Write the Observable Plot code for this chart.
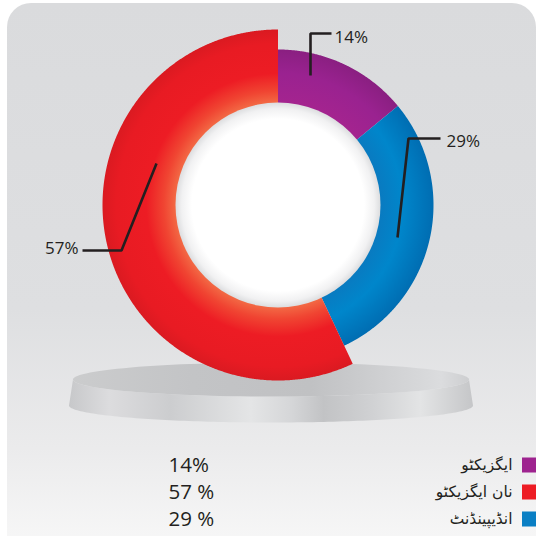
<!DOCTYPE html>
<html><head><meta charset="utf-8">
<script src="https://cdn.jsdelivr.net/npm/d3@7"></script>
<script src="https://cdn.jsdelivr.net/npm/@observablehq/plot@0.6"></script>
<style>html,body{margin:0;padding:0;background:#fff;overflow:hidden;} svg{display:block;}</style>
</head><body><div id="chart"></div>
<script>
// ---- data ----
const categories = ["ایگزیکٹو", "نان ایگزیکٹو", "انڈیپینڈنٹ"];
const values = [14, 57, 29];
const legendValueLabels = ["14%", "57 %", "29 %"];
const sliceLabels = ["14%", "57%", "29%"];
const colors = ["#9e238f", "#ed1c24", "#0a7fc4"];
// clockwise order around the ring, starting at 12 o'clock
const ringOrder = ["ایگزیکٹو", "انڈیپینڈنٹ", "نان ایگزیکٹو"];

// ---- layout ----
const W = 536, H = 536;
const cx = 277.5, cy = 204.5, rInner = 102.5;
const outerRadius = {"ایگزیکٹو": 155.5, "انڈیپینڈنٹ": 155.5, "نان ایگزیکٹو": 175.5};
const gradIds = {"ایگزیکٹو": "gPurple", "انڈیپینڈنٹ": "gBlue", "نان ایگزیکٹو": "gRed"};
// leader lines (pixel layout) and label anchors
const leaders = [
  {cat: "ایگزیکٹو", pts: [[310, 75], [310, 33], [331, 33]], lx: 334, ly: 37, anchor: "start"},
  {cat: "انڈیپینڈنٹ", pts: [[397, 237], [408, 138], [440, 138]], lx: 446, ly: 141, anchor: "start"},
  {cat: "نان ایگزیکٹو", pts: [[156, 163], [121, 250], [82, 250]], lx: 78, ly: 248, anchor: "end"}
];
const legendRowsY = [465, 492, 519];

// ---- build geometry from data ----
const byCat = new Map(categories.map((c, i) => [c, {category: c, value: values[i], color: colors[i], label: sliceLabels[i]}]));
const arcs = d3.pie().sort(null).value(d => d.value)(ringOrder.map(c => byCat.get(c)));

function slicePoly(a) {
  const r1 = outerRadius[a.data.category], r0 = rInner - 3;
  const n = Math.max(16, Math.ceil((a.endAngle - a.startAngle) / 0.005));
  const pts = [];
  for (let i = 0; i <= n; i++) {
    const t = a.startAngle + (a.endAngle - a.startAngle) * i / n;
    pts.push({x: cx + r1 * Math.sin(t), y: cy - r1 * Math.cos(t)});
  }
  for (let i = n; i >= 0; i--) {
    const t = a.startAngle + (a.endAngle - a.startAngle) * i / n;
    pts.push({x: cx + r0 * Math.sin(t), y: cy - r0 * Math.cos(t)});
  }
  return pts;
}
function ellipseArc(ex, ey, rx, ry, t0, t1, n = 120) {
  const pts = [];
  for (let i = 0; i <= n; i++) {
    const t = t0 + (t1 - t0) * i / n;
    pts.push({x: ex + rx * Math.cos(t), y: ey + ry * Math.sin(t)});
  }
  return pts;
}
const pedTop = ellipseArc(270.5, 379, 198, 17, 0, 2 * Math.PI);
const pedSide = [...ellipseArc(270.5, 379, 198, 17, Math.PI, 0), ...ellipseArc(270.5, 405, 202, 17, 0, Math.PI)];

const leaderPts = leaders.flatMap((l, i) => l.pts.map(p => ({x: p[0], y: p[1], k: i})));
const legendRows = categories.map((c, i) => ({category: c, pct: legendValueLabels[i], color: colors[i], y: legendRowsY[i]}));

function defs(index, scales) {
  const X = scales.x(cx), Y = scales.y(cy);
  const g = d3.create("svg:defs");
  const lin = (id, stops, vertical) => {
    const lg = g.append("linearGradient").attr("id", id).attr("x1", 0).attr("y1", 0).attr("x2", vertical ? 0 : 1).attr("y2", vertical ? 1 : 0);
    stops.forEach(([o, c]) => lg.append("stop").attr("offset", o).attr("stop-color", c));
  };
  const rad = (id, r, stops) => {
    const rg = g.append("radialGradient").attr("id", id).attr("gradientUnits", "userSpaceOnUse").attr("cx", X).attr("cy", Y).attr("r", r);
    stops.forEach(([o, c]) => rg.append("stop").attr("offset", o).attr("stop-color", c));
  };
  lin("gBg", [[0, "#dadbdd"], [0.55, "#dedfe1"], [0.8, "#ebebec"], [1, "#f9f9f9"]], true);
  rad("gRed", 175.5, [[0.57, "#f37048"], [0.65, "#f04532"], [0.75, "#ed1c24"], [0.92, "#e81b23"], [1, "#da1a21"]]);
  rad("gPurple", 155.5, [[0.64, "#a5248f"], [0.85, "#9a2290"], [1, "#8a1f81"]]);
  rad("gBlue", 155.5, [[0.64, "#0a79bf"], [0.8, "#0086cb"], [1, "#006db2"]]);
  const ig = g.append("radialGradient").attr("id", "gInner");
  [[0, "#ffffff"], [0.84, "#ffffff"], [0.94, "#f1f1f2"], [1, "#dcdddf"]].forEach(([o, c]) => ig.append("stop").attr("offset", o).attr("stop-color", c));
  lin("gPedTop", [[0, "#cbcccd"], [0.3, "#c3c4c6"], [0.6, "#c0c1c3"], [0.82, "#d2d3d5"], [0.93, "#dbdcde"], [1, "#cdced0"]]);
  lin("gPedSide", [[0, "#c7c8ca"], [0.1, "#dcdcde"], [0.25, "#cccdcf"], [0.45, "#e4e5e6"], [0.55, "#d5d6d8"], [0.63, "#c2c3c5"], [0.75, "#d0d1d3"], [0.87, "#e3e4e5"], [1, "#c5c6c8"]]);
  return g.node();
}

const ink = "#231f20";
const chart = Plot.plot({
  width: W, height: H,
  margin: 0,
  x: {domain: [0, W], range: [0, W], axis: null},
  y: {domain: [0, H], range: [0, H], axis: null},
  style: {background: "#ffffff", overflow: "visible"},
  marks: [
    defs,
    Plot.rect([{x1: 7, x2: 536, y1: 3, y2: 560}], {x1: "x1", x2: "x2", y1: "y1", y2: "y2", rx: 24, fill: "url(#gBg)"}),
    Plot.line(pedSide, {x: "x", y: "y", curve: "linear-closed", fill: "url(#gPedSide)", stroke: "none"}),
    Plot.line(pedTop, {x: "x", y: "y", curve: "linear-closed", fill: "url(#gPedTop)", stroke: "none"}),
    ...arcs.map(a => Plot.line(slicePoly(a), {x: "x", y: "y", curve: "linear-closed", fill: `url(#${gradIds[a.data.category]})`, stroke: "none"})),
    Plot.dot([{x: cx, y: cy}], {x: "x", y: "y", r: rInner, fill: "url(#gInner)", stroke: "none"}),
    Plot.line(leaderPts, {x: "x", y: "y", z: "k", stroke: ink, strokeWidth: 2.6, strokeLinejoin: "miter", strokeLinecap: "butt"}),
    Plot.text(leaders.filter(l => l.anchor === "start"), {x: "lx", y: "ly", text: l => byCat.get(l.cat).label, textAnchor: "start", fill: ink, fontSize: 17, fontFamily: "Open Sans"}),
    Plot.text(leaders.filter(l => l.anchor === "end"), {x: "lx", y: "ly", text: l => byCat.get(l.cat).label, textAnchor: "end", fill: ink, fontSize: 17, fontFamily: "Open Sans"}),
    Plot.rect(legendRows, {x1: () => 522, x2: () => 537, y1: d => d.y - 7.5, y2: d => d.y + 7.5, fill: "color"}),
    Plot.text(legendRows, {x: () => 512, y: "y", text: "category", textAnchor: "end", fill: ink, fontSize: 15.5, fontFamily: "DejaVu Sans"}),
    Plot.text(legendRows, {x: () => 168, y: "y", text: "pct", textAnchor: "start", fill: ink, fontSize: 20.5, fontFamily: "Open Sans"})
  ]
});
document.getElementById("chart").append(chart);
</script>
</body></html>
